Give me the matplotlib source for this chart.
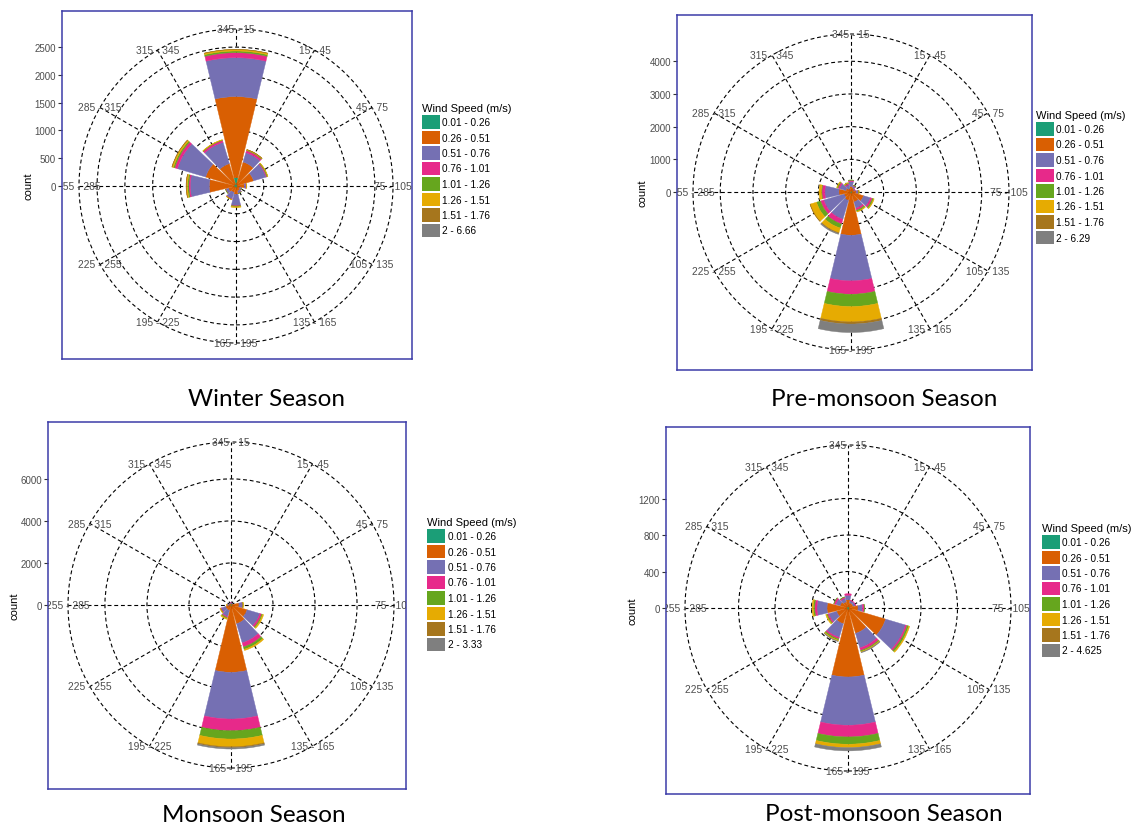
import numpy as np
import matplotlib.pyplot as plt
from matplotlib.patches import Wedge, Circle, Patch

plt.rcParams['font.family'] = ['Liberation Sans', 'DejaVu Sans']

# wind direction sectors, compass degrees clockwise from north
directions = np.arange(0, 360, 30)
sector_labels = ['345 - 15', '15 - 45', '45 - 75', '75 - 105', '105 - 135', '135 - 165',
                 '165 - 195', '195 - 225', '225 - 255', '255 - 285', '285 - 315', '315 - 345']
speed_classes = ['0.01 - 0.26', '0.26 - 0.51', '0.51 - 0.76', '0.76 - 1.01',
                 '1.01 - 1.26', '1.26 - 1.51', '1.51 - 1.76']
speed_colors = ['#1B9E77', '#D95F02', '#7570B3', '#E7298A',
                '#66A61E', '#E6AB02', '#A6761D', '#7F7F7F']

# counts per sector (rows follow directions, columns follow speed classes)
winter = [[150, 1460, 700, 90, 30, 25, 5, 0],
          [20, 430, 175, 40, 10, 8, 2, 0],
          [20, 310, 235, 15, 15, 5, 0, 0],
          [20, 130, 30, 5, 3, 2, 0, 0],
          [15, 60, 30, 5, 2, 0, 0, 0],
          [15, 80, 40, 5, 2, 0, 0, 0],
          [30, 120, 200, 10, 15, 15, 0, 0],
          [20, 100, 120, 10, 5, 3, 0, 0],
          [20, 120, 50, 5, 3, 0, 0, 0],
          [30, 450, 345, 25, 22, 22, 5, 0],
          [30, 540, 530, 50, 25, 25, 5, 0],
          [30, 390, 400, 35, 10, 5, 0, 0]]
premonsoon = [[20, 150, 150, 40, 10, 0, 0, 0],
              [15, 120, 60, 20, 5, 0, 0, 0],
              [10, 90, 30, 10, 0, 0, 0, 0],
              [15, 140, 60, 20, 10, 5, 0, 0],
              [20, 380, 220, 60, 40, 20, 0, 0],
              [20, 300, 200, 60, 40, 20, 0, 0],
              [40, 1285, 1395, 408, 377, 469, 66, 260],
              [20, 250, 600, 150, 130, 150, 20, 30],
              [20, 200, 650, 100, 130, 200, 10, 0],
              [20, 350, 430, 90, 20, 70, 0, 0],
              [15, 150, 200, 50, 30, 15, 0, 0],
              [10, 100, 120, 40, 20, 10, 0, 0]]
monsoon = [[30, 60, 20, 5, 0, 0, 0, 0],
           [20, 50, 20, 0, 0, 0, 0, 0],
           [20, 60, 20, 0, 0, 0, 0, 0],
           [30, 350, 150, 30, 20, 10, 0, 0],
           [30, 770, 630, 90, 50, 50, 0, 0],
           [30, 900, 950, 200, 120, 60, 0, 0],
           [50, 3156, 2222, 555, 397, 365, 50, 60],
           [20, 250, 300, 50, 50, 40, 0, 0],
           [20, 250, 200, 40, 20, 20, 0, 0],
           [20, 100, 60, 10, 5, 5, 0, 0],
           [20, 60, 30, 0, 0, 0, 0, 0],
           [20, 50, 20, 0, 0, 0, 0, 0]]
postmonsoon = [[10, 80, 50, 17, 0, 0, 0, 0],
               [10, 50, 25, 5, 0, 0, 0, 0],
               [10, 50, 25, 5, 0, 0, 0, 0],
               [10, 100, 50, 18, 5, 0, 0, 0],
               [15, 415, 227, 18, 19, 11, 0, 0],
               [10, 280, 166, 29, 12, 8, 0, 6],
               [20, 736, 529, 128, 80, 37, 0, 36],
               [10, 170, 156, 18, 15, 10, 0, 4],
               [10, 120, 90, 15, 10, 10, 0, 0],
               [10, 220, 110, 25, 15, 14, 0, 0],
               [10, 80, 50, 20, 4, 0, 0, 0],
               [10, 60, 40, 15, 3, 0, 0, 0]]

winter_ticks = [0, 500, 1000, 1500, 2000, 2500]
premonsoon_ticks = [0, 1000, 2000, 3000, 4000]
monsoon_ticks = [0, 2000, 4000, 6000]
postmonsoon_ticks = [0, 400, 800, 1200]

top_classes = ['2 - 6.66', '2 - 6.29', '2 - 3.33', '2 - 4.625']
captions = ['Winter Season', 'Pre-monsoon Season', 'Monsoon Season', 'Post-monsoon Season']

W, H = 1143, 828
fig = plt.figure(figsize=(W / 100, H / 100), dpi=100)

dash = (0, (3.5, 2.5))
grey = '#4D4D4D'


def rose(counts, ticks, top_class, caption, box, centre, per_px, outer_px, legend_xy, caption_xy):
    L, T, R, B = box
    cx, cy = centre
    ax = fig.add_axes([L / W, 1 - B / H, (R - L) / W, (B - T) / H])
    ax.set_xlim((L - cx) * per_px, (R - cx) * per_px)
    ax.set_ylim((cy - B) * per_px, (cy - T) * per_px)
    outer = outer_px * per_px

    # dashed rings and spokes
    for r in ticks[1:] + [outer]:
        ax.add_patch(Circle((0, 0), r, fill=False, ls=dash, lw=0.8, ec='black', zorder=1))
    for d in directions:
        a = np.radians(90 - d)
        ax.plot([0, outer * np.cos(a)], [0, outer * np.sin(a)], ls=dash, lw=0.8,
                color='black', zorder=1)

    # stacked sector bars, 0.9 of the 30 degree sector
    counts = np.array(counts)
    tops = counts.cumsum(axis=1)
    for i, d in enumerate(directions):
        for j in range(counts.shape[1]):
            if counts[i, j] <= 0:
                continue
            ax.add_patch(Wedge((0, 0), tops[i, j], 90 - d - 13.5, 90 - d + 13.5,
                               width=counts[i, j], fc=speed_colors[j], ec=speed_colors[j],
                               lw=0.3, zorder=2))

    for d, lab in zip(directions, sector_labels):
        a = np.radians(90 - d)
        ax.text(outer * np.cos(a), outer * np.sin(a), lab, ha='center', va='center',
                fontsize=7.4, color=grey, clip_on=True, zorder=3)

    ax.set_xticks([])
    ax.set_yticks(ticks)
    ax.tick_params(axis='y', length=3.2, width=0.8, color='#333333', pad=1,
                   labelsize=7, labelcolor=grey)
    for s in ax.spines.values():
        s.set_color('#3C3CA8')
        s.set_linewidth(1.1)
    ax.set_ylabel('count', fontsize=8, color='black')
    ax.yaxis.set_label_coords(-29 / (R - L), 0.5)

    handles = [Patch(fc=c, ec='none') for c in speed_colors]
    fig.legend(handles, speed_classes + [top_class], title='Wind Speed (m/s)',
               loc='upper left', bbox_to_anchor=(legend_xy[0] / W, 1 - legend_xy[1] / H),
               frameon=False, fontsize=7.2, title_fontsize=8, handlelength=1.8,
               handleheight=1.7, labelspacing=0.2, handletextpad=0.25,
               borderpad=0, borderaxespad=0, alignment='left')

    fig.text(caption_xy[0] / W, 1 - caption_xy[1] / H, caption, ha='center', va='center',
             fontsize=17.5, family=['Lato', 'DejaVu Sans'])


rose(winter, winter_ticks, top_classes[0], captions[0], (62, 12, 412, 360), (236, 187),
     18.0, 157, (422, 104), (267, 400))
rose(premonsoon, premonsoon_ticks, top_classes[1], captions[1], (677, 16, 1032, 371), (851, 193),
     30.6, 158, (1036, 111), (884, 400))
rose(monsoon, monsoon_ticks, top_classes[2], captions[2], (48, 423, 406, 790), (231, 606),
     47.6, 163, (427, 518), (254, 816))
rose(postmonsoon, postmonsoon_ticks, top_classes[3], captions[3], (666, 428, 1030, 795), (848, 609),
     10.96, 163, (1042, 524), (884, 815))

fig.savefig('out.png', dpi=100)
